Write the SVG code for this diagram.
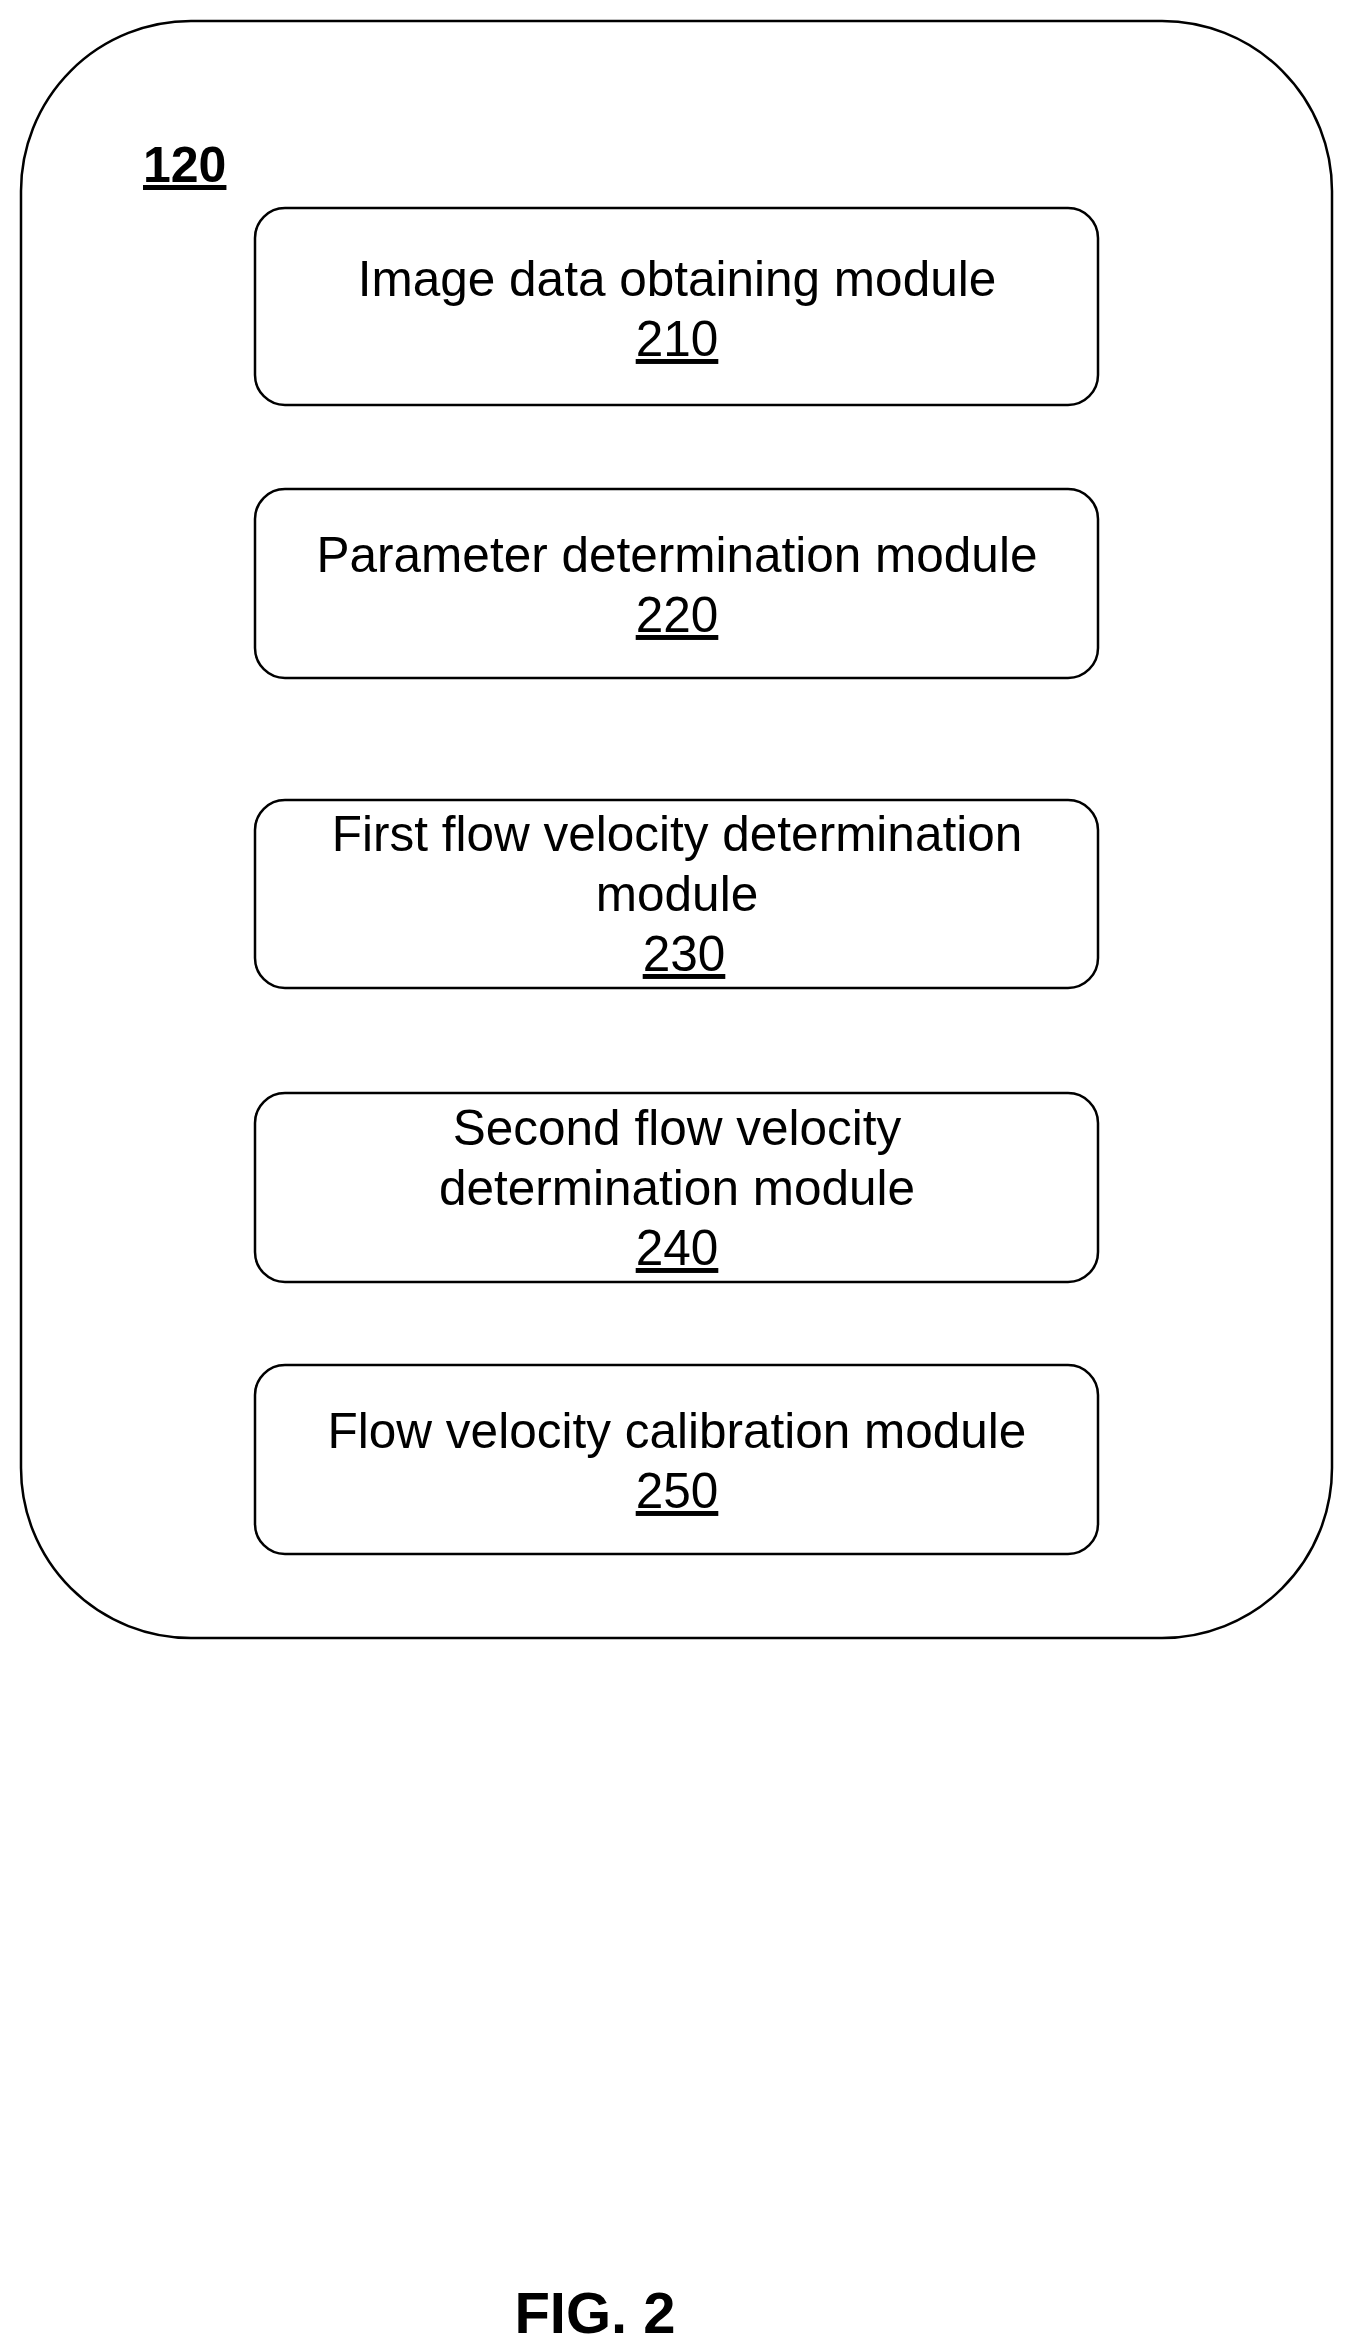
<svg xmlns="http://www.w3.org/2000/svg" width="1350" height="2344" viewBox="0 0 1350 2344">
<style>
.b{fill:none;stroke:#000;stroke-width:2.5}
.t{font-family:"Liberation Sans",Arial,sans-serif;font-size:49.5px;text-anchor:middle;fill:#000}
.u{text-decoration:underline}
</style>
<rect width="1350" height="2344" fill="#fff"/>
<g id="container">
<rect class="b" x="21" y="21" width="1311" height="1617" rx="170" ry="170"/>
<text x="143" y="182" font-family="Liberation Sans,Arial,sans-serif" font-size="50" font-weight="bold" text-decoration="underline">120</text>
</g>
<g id="n210"><rect class="b" x="255" y="208" width="843" height="197" rx="30"/>
<text class="t" x="677" y="296">Image data obtaining module</text><text class="t u" x="677" y="356">210</text></g>
<g id="n220"><rect class="b" x="255" y="489" width="843" height="189" rx="30"/>
<text class="t" x="677" y="572">Parameter determination module</text><text class="t u" x="677" y="632">220</text></g>
<g id="n230"><rect class="b" x="255" y="800" width="843" height="188" rx="30"/>
<text class="t" x="677" y="851">First flow velocity determination</text><text class="t" x="677" y="911">module</text><text class="t u" x="684" y="971">230</text></g>
<g id="n240"><rect class="b" x="255" y="1093" width="843" height="189" rx="30"/>
<text class="t" x="677" y="1145">Second flow velocity</text><text class="t" x="677" y="1205">determination module</text><text class="t u" x="677" y="1265">240</text></g>
<g id="n250"><rect class="b" x="255" y="1365" width="843" height="189" rx="30"/>
<text class="t" x="677" y="1448">Flow velocity calibration module</text><text class="t u" x="677" y="1508">250</text></g>
<g id="connectors"/>
<text x="595" y="2333" font-family="Liberation Sans,Arial,sans-serif" font-size="58" font-weight="bold" text-anchor="middle">FIG. 2</text>
</svg>
